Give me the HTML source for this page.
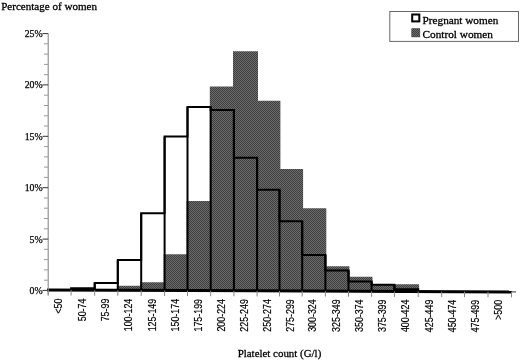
<!DOCTYPE html>
<html><head><meta charset="utf-8"><style>
html,body{margin:0;padding:0;background:#fff;}
body{width:520px;height:362px;overflow:hidden;}
svg{display:block;filter:grayscale(1);}
.t{font-family:"Liberation Serif",serif;font-size:11.3px;fill:#000;stroke:#000;stroke-width:0.3px;}
.yl{font-family:"Liberation Serif",serif;font-size:9.8px;fill:#000;stroke:#000;stroke-width:0.25px;}
.xl{font-family:"Liberation Sans",sans-serif;font-size:10.2px;fill:#000;stroke:#000;stroke-width:0.2px;}
</style></head><body>
<svg width="520" height="362" viewBox="0 0 520 362">
<defs>
<pattern id="dots" width="2" height="2" patternUnits="userSpaceOnUse">
<rect width="2" height="2" fill="#6c6c6c"/>
<rect width="1" height="1" fill="#3e3e3e"/>
<rect x="1" y="1" width="1" height="1" fill="#3e3e3e"/>
</pattern>
</defs>
<text x="1.2" y="9.6" class="t" textLength="95.8" lengthAdjust="spacingAndGlyphs">Percentage of women</text>
<rect x="389.8" y="11.5" width="128.7" height="29.9" fill="#fff" stroke="#666" stroke-width="1"/>
<rect x="412.2" y="14.5" width="7.1" height="6.9" fill="#fff" stroke="#000" stroke-width="2"/>
<rect x="411.8" y="28.7" width="8" height="8.2" fill="url(#dots)" stroke="#333" stroke-width="0.6"/>
<text x="422.6" y="23.6" class="t" textLength="75.7" lengthAdjust="spacingAndGlyphs">Pregnant women</text>
<text x="422.6" y="38" class="t" textLength="70.3" lengthAdjust="spacingAndGlyphs">Control women</text>
<polygon points="116.90,290.28 116.90,285.80 140.30,285.80 140.30,282.20 163.70,282.20 163.70,254.30 186.60,254.30 186.60,201.00 209.80,201.00 209.80,86.40 233.00,86.40 233.00,51.20 258.00,51.20 258.00,100.80 280.40,100.80 280.40,169.00 303.10,169.00 303.10,208.30 326.30,208.30 326.30,266.20 349.40,266.20 349.40,276.70 372.50,276.70 372.50,284.30 395.30,284.30 395.30,284.30 419.10,284.30 419.10,291.52" fill="url(#dots)"/>
<path d="M71.1,290.1 L71.1,288.2 L94.7,288.2 L94.7,283.0 L117.8,283.0 L117.8,260.0 L141.2,260.0 L141.2,213.2 L164.6,213.2 L164.6,136.4 L187.5,136.4 L187.5,107.1 L210.7,107.1 L210.7,109.9 L233.9,109.9 L233.9,157.8 L257.1,157.8 L257.1,189.8 L279.5,189.8 L279.5,221.2 L302.2,221.2 L302.2,254.9 L325.4,254.9 L325.4,270.6 L348.5,270.6 L348.5,281.5 L371.6,281.5 L371.6,284.8 L394.4,284.8 L394.4,289.3 L418.2,289.3 L418.2,291.5" fill="none" stroke="#000" stroke-width="2" stroke-linejoin="miter"/>
<path d="M94.7,283.0 V290.2 M117.8,260.0 V290.3 M141.2,213.2 V290.4 M164.6,136.4 V290.5 M187.5,107.1 V290.6 M210.7,107.1 V290.7 M233.9,109.9 V290.8 M257.1,157.8 V290.9 M279.5,189.8 V290.9 M302.2,221.2 V291.0 M325.4,254.9 V291.1 M348.5,270.6 V291.2 M371.6,281.5 V291.3 M394.4,284.8 V291.4 " fill="none" stroke="#000" stroke-width="2"/>
<line x1="47" y1="290.00" x2="512" y2="291.90" stroke="#000" stroke-width="3"/>
<line x1="511" y1="291.90" x2="516" y2="291.92" stroke="#333" stroke-width="1"/>
<line x1="48.2" y1="33.5" x2="48.2" y2="295.3" stroke="#8a8a8a" stroke-width="1.1"/>
<line x1="42.5" y1="290.4" x2="48.2" y2="290.4" stroke="#333" stroke-width="1"/>
<text x="42.6" y="293.8" text-anchor="end" class="yl">0%</text>
<line x1="44" y1="280.2" x2="48.2" y2="280.2" stroke="#999" stroke-width="1"/>
<line x1="44" y1="269.9" x2="48.2" y2="269.9" stroke="#999" stroke-width="1"/>
<line x1="44" y1="259.6" x2="48.2" y2="259.6" stroke="#999" stroke-width="1"/>
<line x1="44" y1="249.3" x2="48.2" y2="249.3" stroke="#999" stroke-width="1"/>
<line x1="42.5" y1="239.1" x2="48.2" y2="239.1" stroke="#333" stroke-width="1"/>
<text x="42.6" y="242.5" text-anchor="end" class="yl">5%</text>
<line x1="44" y1="228.8" x2="48.2" y2="228.8" stroke="#999" stroke-width="1"/>
<line x1="44" y1="218.5" x2="48.2" y2="218.5" stroke="#999" stroke-width="1"/>
<line x1="44" y1="208.2" x2="48.2" y2="208.2" stroke="#999" stroke-width="1"/>
<line x1="44" y1="198.0" x2="48.2" y2="198.0" stroke="#999" stroke-width="1"/>
<line x1="42.5" y1="187.7" x2="48.2" y2="187.7" stroke="#333" stroke-width="1"/>
<text x="42.6" y="191.1" text-anchor="end" class="yl">10%</text>
<line x1="44" y1="177.4" x2="48.2" y2="177.4" stroke="#999" stroke-width="1"/>
<line x1="44" y1="167.1" x2="48.2" y2="167.1" stroke="#999" stroke-width="1"/>
<line x1="44" y1="156.9" x2="48.2" y2="156.9" stroke="#999" stroke-width="1"/>
<line x1="44" y1="146.6" x2="48.2" y2="146.6" stroke="#999" stroke-width="1"/>
<line x1="42.5" y1="136.3" x2="48.2" y2="136.3" stroke="#333" stroke-width="1"/>
<text x="42.6" y="139.7" text-anchor="end" class="yl">15%</text>
<line x1="44" y1="126.0" x2="48.2" y2="126.0" stroke="#999" stroke-width="1"/>
<line x1="44" y1="115.8" x2="48.2" y2="115.8" stroke="#999" stroke-width="1"/>
<line x1="44" y1="105.5" x2="48.2" y2="105.5" stroke="#999" stroke-width="1"/>
<line x1="44" y1="95.2" x2="48.2" y2="95.2" stroke="#999" stroke-width="1"/>
<line x1="42.5" y1="84.9" x2="48.2" y2="84.9" stroke="#333" stroke-width="1"/>
<text x="42.6" y="88.3" text-anchor="end" class="yl">20%</text>
<line x1="44" y1="74.7" x2="48.2" y2="74.7" stroke="#999" stroke-width="1"/>
<line x1="44" y1="64.4" x2="48.2" y2="64.4" stroke="#999" stroke-width="1"/>
<line x1="44" y1="54.1" x2="48.2" y2="54.1" stroke="#999" stroke-width="1"/>
<line x1="44" y1="43.8" x2="48.2" y2="43.8" stroke="#999" stroke-width="1"/>
<line x1="42.5" y1="33.6" x2="48.2" y2="33.6" stroke="#333" stroke-width="1"/>
<text x="42.6" y="37.0" text-anchor="end" class="yl">25%</text>
<line x1="48.2" y1="290.0" x2="48.2" y2="295.5" stroke="#888" stroke-width="1"/>
<line x1="71.1" y1="290.1" x2="71.1" y2="295.6" stroke="#888" stroke-width="1"/>
<line x1="94.7" y1="290.2" x2="94.7" y2="295.7" stroke="#888" stroke-width="1"/>
<line x1="117.8" y1="290.3" x2="117.8" y2="295.8" stroke="#888" stroke-width="1"/>
<line x1="141.2" y1="290.4" x2="141.2" y2="295.9" stroke="#888" stroke-width="1"/>
<line x1="164.6" y1="290.5" x2="164.6" y2="296.0" stroke="#888" stroke-width="1"/>
<line x1="187.5" y1="290.6" x2="187.5" y2="296.1" stroke="#888" stroke-width="1"/>
<line x1="210.7" y1="290.7" x2="210.7" y2="296.2" stroke="#888" stroke-width="1"/>
<line x1="233.9" y1="290.8" x2="233.9" y2="296.3" stroke="#888" stroke-width="1"/>
<line x1="257.1" y1="290.9" x2="257.1" y2="296.4" stroke="#888" stroke-width="1"/>
<line x1="279.5" y1="290.9" x2="279.5" y2="296.4" stroke="#888" stroke-width="1"/>
<line x1="302.2" y1="291.0" x2="302.2" y2="296.5" stroke="#888" stroke-width="1"/>
<line x1="325.4" y1="291.1" x2="325.4" y2="296.6" stroke="#888" stroke-width="1"/>
<line x1="348.5" y1="291.2" x2="348.5" y2="296.7" stroke="#888" stroke-width="1"/>
<line x1="371.6" y1="291.3" x2="371.6" y2="296.8" stroke="#888" stroke-width="1"/>
<line x1="394.4" y1="291.4" x2="394.4" y2="296.9" stroke="#888" stroke-width="1"/>
<line x1="418.2" y1="291.5" x2="418.2" y2="297.0" stroke="#888" stroke-width="1"/>
<line x1="441.7" y1="291.6" x2="441.7" y2="297.1" stroke="#888" stroke-width="1"/>
<line x1="464.5" y1="291.7" x2="464.5" y2="297.2" stroke="#888" stroke-width="1"/>
<line x1="488.0" y1="291.8" x2="488.0" y2="297.3" stroke="#888" stroke-width="1"/>
<line x1="511.5" y1="291.9" x2="511.5" y2="297.4" stroke="#888" stroke-width="1"/>
<text transform="translate(62.2,298.54) rotate(-90) scale(0.87,1)" text-anchor="end" class="xl">&lt;50</text>
<text transform="translate(85.5,298.61) rotate(-90) scale(0.87,1)" text-anchor="end" class="xl">50-74</text>
<text transform="translate(108.8,298.68) rotate(-90) scale(0.87,1)" text-anchor="end" class="xl">75-99</text>
<text transform="translate(132.1,298.75) rotate(-90) scale(0.87,1)" text-anchor="end" class="xl">100-124</text>
<text transform="translate(155.5,298.82) rotate(-90) scale(0.87,1)" text-anchor="end" class="xl">125-149</text>
<text transform="translate(178.7,298.89) rotate(-90) scale(0.87,1)" text-anchor="end" class="xl">150-174</text>
<text transform="translate(201.7,298.96) rotate(-90) scale(0.87,1)" text-anchor="end" class="xl">175-199</text>
<text transform="translate(224.9,299.03) rotate(-90) scale(0.87,1)" text-anchor="end" class="xl">200-224</text>
<text transform="translate(248.1,299.10) rotate(-90) scale(0.87,1)" text-anchor="end" class="xl">225-249</text>
<text transform="translate(270.9,299.16) rotate(-90) scale(0.87,1)" text-anchor="end" class="xl">250-274</text>
<text transform="translate(293.5,299.23) rotate(-90) scale(0.87,1)" text-anchor="end" class="xl">275-299</text>
<text transform="translate(316.4,299.30) rotate(-90) scale(0.87,1)" text-anchor="end" class="xl">300-324</text>
<text transform="translate(339.6,299.37) rotate(-90) scale(0.87,1)" text-anchor="end" class="xl">325-349</text>
<text transform="translate(362.7,299.44) rotate(-90) scale(0.87,1)" text-anchor="end" class="xl">350-374</text>
<text transform="translate(385.6,299.51) rotate(-90) scale(0.87,1)" text-anchor="end" class="xl">375-399</text>
<text transform="translate(408.9,299.58) rotate(-90) scale(0.87,1)" text-anchor="end" class="xl">400-424</text>
<text transform="translate(432.6,299.65) rotate(-90) scale(0.87,1)" text-anchor="end" class="xl">425-449</text>
<text transform="translate(455.7,299.72) rotate(-90) scale(0.87,1)" text-anchor="end" class="xl">450-474</text>
<text transform="translate(478.9,299.79) rotate(-90) scale(0.87,1)" text-anchor="end" class="xl">475-499</text>
<text transform="translate(502.4,299.86) rotate(-90) scale(0.87,1)" text-anchor="end" class="xl">&gt;500</text>
<text x="237.7" y="357" class="t" style="font-size:11.4px" textLength="83.6" lengthAdjust="spacingAndGlyphs">Platelet count (G/l)</text>
</svg>
</body></html>
